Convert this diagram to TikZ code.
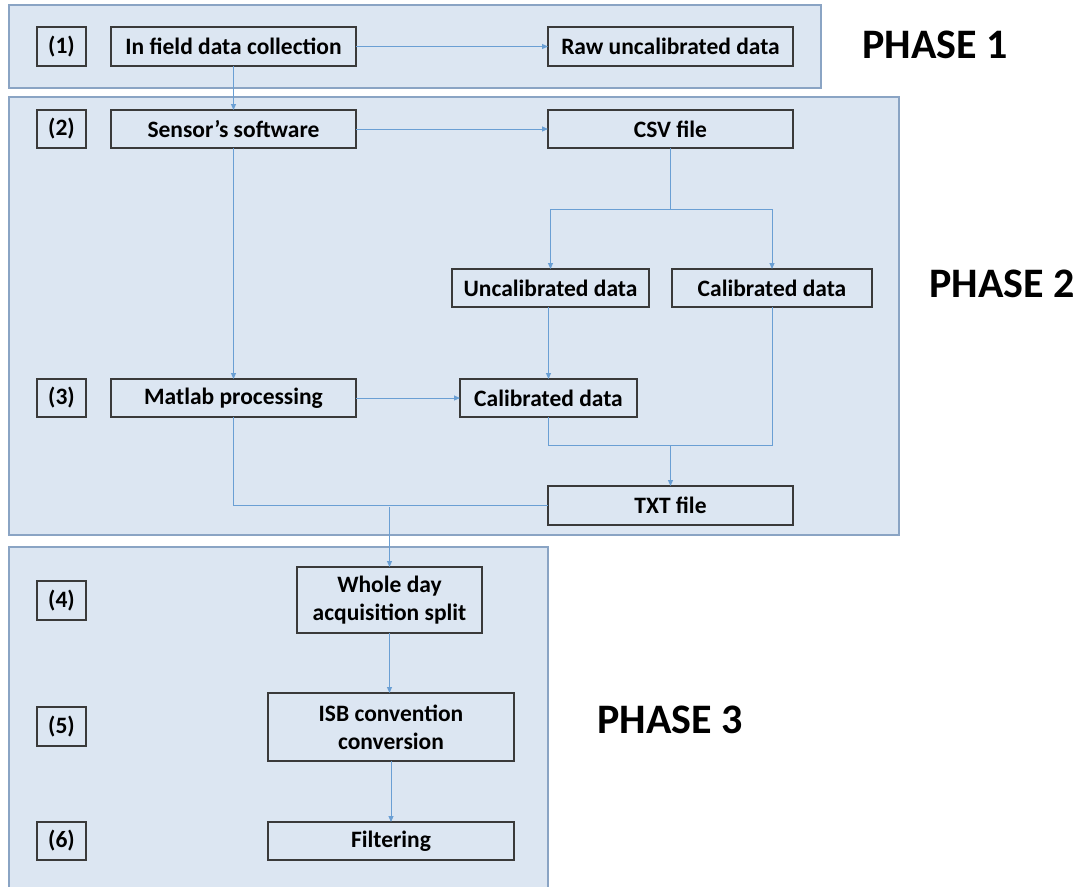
\documentclass[tikz,border=0pt]{standalone}
\usepackage{fontspec}
\setmainfont{Carlito}
\usetikzlibrary{arrows.meta}
\definecolor{panelfill}{HTML}{DCE6F2}
\definecolor{panelline}{HTML}{8AA4C4}
\definecolor{boxline}{HTML}{3A3A3A}
\definecolor{connline}{HTML}{6A9FD4}
\tikzset{
  panel/.style={fill=panelfill, draw=panelline, line width=1.4pt},
  stepbox/.style={draw=boxline, line width=1.4pt, rectangle, inner sep=0pt, outer sep=0pt,
    align=center, font=\fontsize{23.5}{28}\selectfont\bfseries, text=black},
  numbox/.style={stepbox, minimum width=49pt},
  conn/.style={draw=connline, line width=1pt, -{Triangle[length=6pt,width=5pt]}},
  connplain/.style={draw=connline, line width=1pt},
  phase/.style={anchor=base west, inner sep=0pt, font=\fontsize{42}{48}\selectfont\bfseries, text=black}
}
\begin{document}
\begin{tikzpicture}[x=1pt,y=-1pt]
\useasboundingbox (0,0) rectangle (1080,887);
\clip (0,0) rectangle (1080,887);
% panels
\draw[panel] (9,5) rectangle (821,88);
\draw[panel] (9,97) rectangle (899,535);
\fill[panelfill] (9,547) rectangle (548,895);
\draw[panelline, line width=1.4pt] (9,895) -- (9,547) -- (548,547) -- (548,895);

% phase 1
\node[numbox, minimum height=39pt] (n1) at (61.5,46.5) {(1)};
\node[stepbox, minimum width=245pt, minimum height=39pt] (infield) at (233.5,46.5) {In field data collection};
\node[stepbox, minimum width=245pt, minimum height=39pt] (raw) at (670.5,46.5) {Raw uncalibrated data};
\node[phase] (ph1) at (862,58) {PHASE 1};

% phase 2
\node[numbox, minimum height=38pt] (n2) at (61.5,129) {(2)};
\node[stepbox, minimum width=245pt, minimum height=38pt] (sensor) at (233.5,129) {Sensor’s software};
\node[stepbox, minimum width=245pt, minimum height=38pt] (csv) at (670.5,129) {CSV file};
\node[stepbox, minimum width=197pt, minimum height=38pt] (uncal) at (550.5,288) {Uncalibrated data};
\node[stepbox, minimum width=200pt, minimum height=38pt] (calR) at (772,288) {Calibrated data};
\node[numbox, minimum height=38pt] (n3) at (61.5,398) {(3)};
\node[stepbox, minimum width=245pt, minimum height=38pt] (matlab) at (233.5,398) {Matlab processing};
\node[stepbox, minimum width=177pt, minimum height=38pt] (calM) at (548.5,398) {Calibrated data};
\node[stepbox, minimum width=245pt, minimum height=39pt] (txt) at (670.5,505.5) {TXT file};
\node[phase] (ph2) at (929,297) {PHASE 2};

% phase 3
\node[numbox, minimum height=39pt] (n4) at (61.5,600.5) {(4)};
\node[stepbox, minimum width=185pt, minimum height=66pt] (whole) at (389.5,600) {Whole day\\acquisition split};
\node[numbox, minimum height=39pt] (n5) at (61.5,726.5) {(5)};
\node[stepbox, minimum width=246pt, minimum height=68pt] (isb) at (391,727) {ISB convention\\conversion};
\node[numbox, minimum height=38pt] (n6) at (61.5,841) {(6)};
\node[stepbox, minimum width=246pt, minimum height=38pt] (filt) at (391,841) {Filtering};
\node[phase] (ph3) at (597,733) {PHASE 3};

% junction coordinates
\coordinate (split) at (670.5,209);
\coordinate (merge) at (670.5,445);
\coordinate (join) at (389.5,507);

% connectors
\draw[conn] (infield.east) -- (raw.west);
\draw[conn] (infield.south) -- (sensor.north);
\draw[conn] (sensor.east) -- (csv.west);
\draw[conn] (sensor.south) -- (matlab.north);
\draw[connplain] (csv.south) -- (split);
\draw[conn] (split) -| (uncal.north);
\draw[conn] (split) -| (calR.north);
\draw[conn] (calM.north |- uncal.south) -- (calM.north);
\draw[conn] (matlab.east) -- (calM.west);
\draw[connplain] (calM.south) |- (merge);
\draw[connplain] (calR.south) |- (merge);
\draw[conn] (merge) -- (txt.north);
\draw[connplain] (matlab.south) |- (txt.west);
\draw[conn] (join) -- (whole.north);
\draw[conn] (whole.south) -- (whole.south |- isb.north);
\draw[conn] (isb.south) -- (filt.north);
\end{tikzpicture}
\end{document}
